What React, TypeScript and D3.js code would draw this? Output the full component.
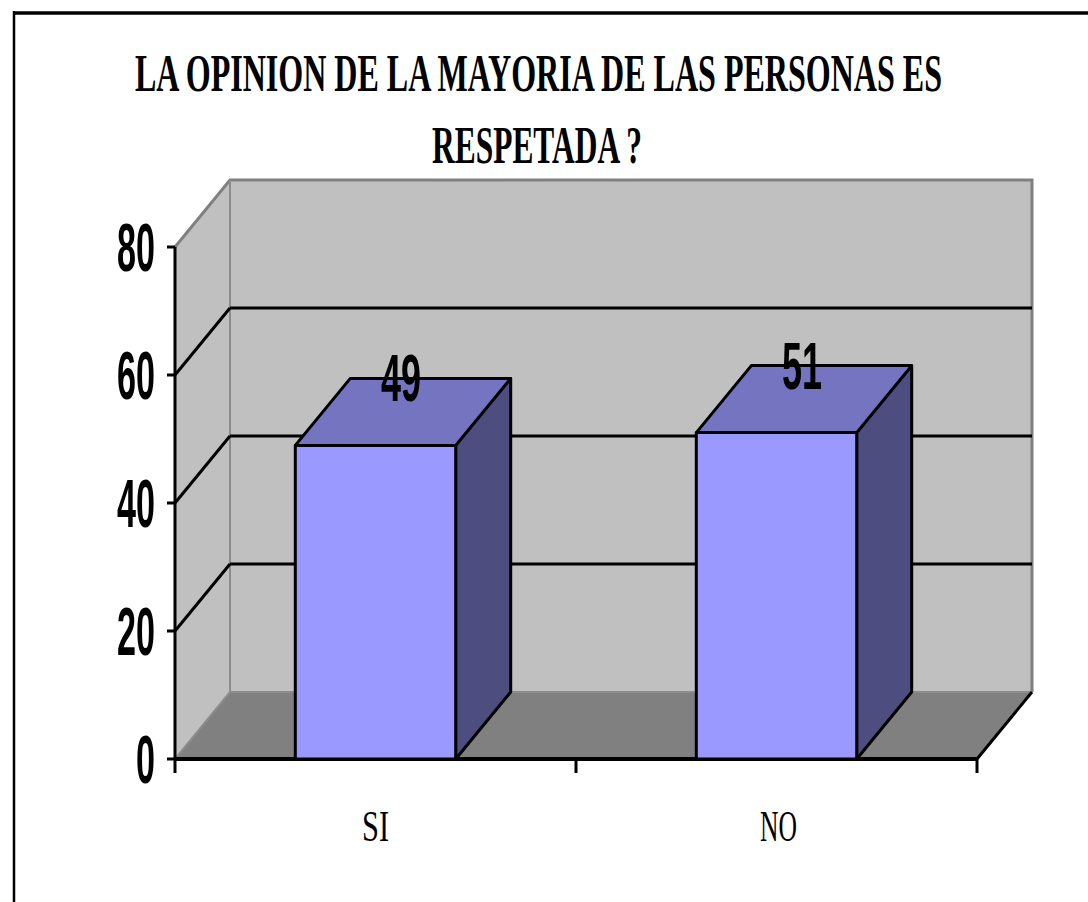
import { useRef, useEffect } from "react";
import * as d3 from "d3";

const categories = ["SI", "NO"];
const values = [49, 51];
const yTicks = [0, 20, 40, 60, 80];
const titleLines = ["LA OPINION DE LA MAYORIA DE LAS PERSONAS ES", "RESPETADA ?"];

export default function App() {
  const ref = useRef<SVGSVGElement>(null);

  useEffect(() => {
    const svg = d3.select(ref.current);
    svg.selectAll("*").remove();

    // 3d depth offset
    const dx = 55;
    const dy = -67;

    const y = d3.scaleLinear().domain([0, 80]).range([759, 247]);
    const x = d3
      .scaleBand()
      .domain(categories)
      .range([175, 977])
      .paddingInner(0.6)
      .paddingOuter(0.3);

    const x0 = 175;
    const x1 = 977;
    const y0 = y(0);
    const yTop = y(80);

    const pts = (arr: number[][]) => arr.map((p) => p.join(",")).join(" ");

    // outer frame (only top and left visible)
    svg.append("line").attr("x1", 14).attr("x2", 1088).attr("y1", 13).attr("y2", 13)
      .attr("stroke", "#000").attr("stroke-width", 3.5);
    svg.append("line").attr("x1", 14).attr("x2", 14).attr("y1", 11).attr("y2", 902)
      .attr("stroke", "#000").attr("stroke-width", 2.5);

    // title
    const tl = svg.append("g").attr("font-family", "'Liberation Serif', 'Times New Roman', serif")
      .attr("font-weight", "bold").attr("font-size", 52).attr("fill", "#000");
    tl.append("text").attr("x", 135).attr("y", 91).attr("textLength", 807)
      .attr("lengthAdjust", "spacingAndGlyphs").text(titleLines[0]);
    tl.append("text").attr("x", 432).attr("y", 163).attr("textLength", 210)
      .attr("lengthAdjust", "spacingAndGlyphs").text(titleLines[1]);

    // back wall
    svg.append("rect").attr("x", x0 + dx).attr("y", yTop + dy)
      .attr("width", x1 - x0).attr("height", y0 - yTop)
      .attr("fill", "#C0C0C0");
    // side wall
    svg.append("polygon")
      .attr("points", pts([[x0, y0], [x0 + dx, y0 + dy], [x0 + dx, yTop + dy], [x0, yTop]]))
      .attr("fill", "#C0C0C0");
    // floor
    svg.append("polygon")
      .attr("points", pts([[x0, y0], [x0 + dx, y0 + dy], [x1 + dx, y0 + dy], [x1, y0]]))
      .attr("fill", "#808080");

    // wall edges
    svg.append("polyline")
      .attr("points", pts([[x0, yTop], [x0 + dx, yTop + dy], [x1 + dx, yTop + dy], [x1 + dx, y0 + dy]]))
      .attr("fill", "none").attr("stroke", "#808080").attr("stroke-width", 3);
    svg.append("line").attr("x1", x0 + dx).attr("x2", x0 + dx)
      .attr("y1", yTop + dy).attr("y2", y0 + dy)
      .attr("stroke", "#8c8c8c").attr("stroke-width", 2);
    svg.append("polyline")
      .attr("points", pts([[x0, y0], [x0 + dx, y0 + dy], [x1 + dx, y0 + dy]]))
      .attr("fill", "none").attr("stroke", "#8c8c8c").attr("stroke-width", 2);

    // gridlines
    const grid = yTicks.filter((t) => t > 0 && t < 80);
    svg.selectAll(".gridback").data(grid).join("line")
      .attr("x1", x0 + dx).attr("x2", x1 + dx)
      .attr("y1", (d) => y(d) + dy).attr("y2", (d) => y(d) + dy)
      .attr("stroke", "#000").attr("stroke-width", 3);
    svg.selectAll(".gridside").data(grid).join("line")
      .attr("x1", x0).attr("x2", x0 + dx)
      .attr("y1", (d) => y(d)).attr("y2", (d) => y(d) + dy)
      .attr("stroke", "#000").attr("stroke-width", 3);

    // floor right edge
    svg.append("line").attr("x1", x1).attr("y1", y0).attr("x2", x1 + dx).attr("y2", y0 + dy)
      .attr("stroke", "#000").attr("stroke-width", 3);

    // axes
    svg.append("line").attr("x1", x0).attr("x2", x0).attr("y1", yTop).attr("y2", y0)
      .attr("stroke", "#000").attr("stroke-width", 3);
    svg.append("line").attr("x1", x0).attr("x2", x1).attr("y1", y0).attr("y2", y0)
      .attr("stroke", "#000").attr("stroke-width", 4);
    svg.selectAll(".ytick").data(yTicks).join("line")
      .attr("x1", x0 - 8).attr("x2", x0)
      .attr("y1", (d) => y(d)).attr("y2", (d) => y(d))
      .attr("stroke", "#000").attr("stroke-width", 3);
    const xTickPos = [x0, ...categories.slice(1).map((c) => (x(c) as number) - x.step() * x.paddingInner() / 2), x1];
    svg.selectAll(".xtick").data(xTickPos).join("line")
      .attr("x1", (d) => d).attr("x2", (d) => d)
      .attr("y1", y0).attr("y2", y0 + 14)
      .attr("stroke", "#000").attr("stroke-width", 3);

    // y labels
    svg.selectAll(".ylab").data(yTicks).join("text")
      .attr("x", 155).attr("y", (d) => y(d) + 24)
      .attr("text-anchor", "end")
      .attr("font-family", "'Liberation Sans Narrow', 'Liberation Sans', Arial, sans-serif")
      .attr("font-weight", "bold").attr("font-size", 68)
      .attr("textLength", (d) => String(d).length * 19)
      .attr("lengthAdjust", "spacingAndGlyphs")
      .text((d) => d);

    // x labels
    svg.selectAll(".xlab").data(categories).join("text")
      .attr("x", (d) => (x(d) as number) + x.bandwidth() / 2 + (d === "SI" ? 0 : 2))
      .attr("y", 841)
      .attr("text-anchor", "middle")
      .attr("font-family", "'Liberation Serif', 'Times New Roman', serif")
      .attr("font-size", 44)
      .attr("textLength", (d) => (d === "SI" ? 27 : 37))
      .attr("lengthAdjust", "spacingAndGlyphs")
      .text((d) => d);

    // bars
    const bw = x.bandwidth();
    categories.forEach((c, i) => {
      const bx = x(c) as number;
      const by = y(values[i]);
      const g = svg.append("g").attr("stroke", "#000").attr("stroke-width", 3)
        .attr("stroke-linejoin", "round");
      g.append("polygon")
        .attr("points", pts([[bx + bw, y0], [bx + bw + dx, y0 + dy], [bx + bw + dx, by + dy], [bx + bw, by]]))
        .attr("fill", "#4D4D80");
      g.append("polygon")
        .attr("points", pts([[bx, by], [bx + dx, by + dy], [bx + bw + dx, by + dy], [bx + bw, by]]))
        .attr("fill", "#7474C0");
      g.append("rect").attr("x", bx).attr("y", by).attr("width", bw).attr("height", y0 - by)
        .attr("fill", "#9999FF");
    });

    // value labels
    svg.selectAll(".vlab").data(values).join("text")
      .attr("x", (d, i) => (x(categories[i]) as number) + bw / 2 + dx / 2 - 2)
      .attr("y", (d) => y(d) + dy + 23)
      .attr("text-anchor", "middle")
      .attr("font-family", "'Liberation Sans Narrow', 'Liberation Sans', Arial, sans-serif")
      .attr("font-weight", "bold").attr("font-size", 66)
      .attr("textLength", (d) => String(d).length * 20)
      .attr("lengthAdjust", "spacingAndGlyphs")
      .text((d) => d);
  }, []);

  return (
    <svg
      ref={ref}
      width={1088}
      height={902}
      style={{ position: "absolute", left: 0, top: 0, background: "#fff" }}
    />
  );
}
